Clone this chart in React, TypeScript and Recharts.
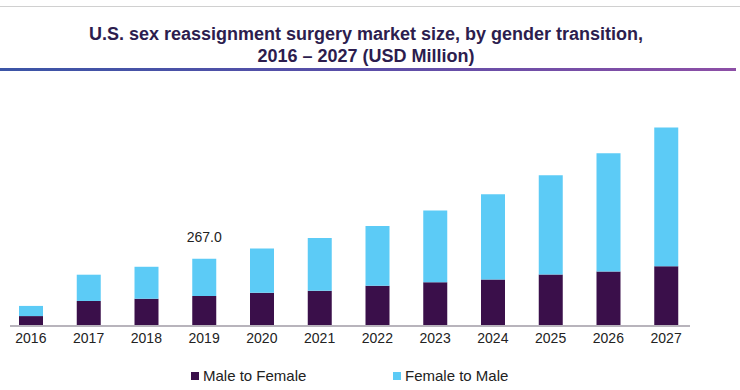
import { BarChart, Bar, XAxis, YAxis, Legend, LabelList } from "recharts";

const years = ["2016", "2017", "2018", "2019", "2020", "2021", "2022", "2023", "2024", "2025", "2026", "2027"];
const maleToFemale = [36, 97, 106, 117, 130, 138, 158, 173, 184, 204, 216, 237];
const femaleToMale = [41, 106, 129, 150, 179, 213, 242, 289, 344, 400, 477, 560];
const labelledTotals = ["", "", "", "267.0", "", "", "", "", "", "", "", ""];

const DARK = "#3a0f4a";
const LIGHT = "#5ccbf6";

const data = years.map((year, i) => ({
  year,
  mtf: maleToFemale[i],
  ftm: femaleToMale[i],
  label: labelledTotals[i],
}));

const font = "'Liberation Sans', Arial, sans-serif";

function TotalLabel(props: any) {
  const { x, y, width, value } = props;
  if (!value) return null;
  return (
    <text x={x + width / 2} y={y - 17} textAnchor="middle" fontSize={14} fill="#222" fontFamily={font}>
      {value}
    </text>
  );
}

function LegendContent() {
  const items = [
    { name: "Male to Female", color: DARK, left: 191 },
    { name: "Female to Male", color: LIGHT, left: 393 },
  ];
  return (
    <div style={{ position: "relative", height: 20, fontFamily: font, fontSize: 15, color: "#222" }}>
      {items.map(it => (
        <div key={it.name} style={{ position: "absolute", left: it.left, top: 0, display: "flex", alignItems: "center" }}>
          <span style={{ width: 8, height: 8, background: it.color, display: "inline-block", marginRight: 4 }} />
          <span>{it.name}</span>
        </div>
      ))}
    </div>
  );
}

export default function App() {
  return (
    <div style={{ position: "absolute", left: 0, top: 0, width: 740, height: 390, background: "#fff", overflow: "hidden" }}>
      {/* frame lines */}
      <div style={{ position: "absolute", left: 0, top: 6, width: 740, height: 1, background: "#d0d0d0" }} />
      <div style={{ position: "absolute", left: 0, top: 68, width: 736, height: 3, background: "linear-gradient(90deg, #3b55a6 0%, #5b4ea8 50%, #8d4fa6 100%)" }} />

      {/* title */}
      <div style={{ position: "absolute", left: 0, top: 23, width: 732, textAlign: "center", fontFamily: font, fontWeight: "bold", fontSize: 18, lineHeight: "22px", color: "#2c1d4e" }}>
        U.S. sex reassignment surgery market size, by gender transition,
        <br />
        2016 – 2027 (USD Million)
      </div>

      <div style={{ position: "absolute", left: 10, top: 325, width: 680, height: 2, background: "#b8b4bc" }} />

      <div style={{ position: "absolute", left: 0, top: 0 }}>
        <BarChart width={740} height={390} data={data} margin={{ top: 102, right: 45, left: 2, bottom: 12 }}>
          <XAxis
            dataKey="year"
            axisLine={false}
            tickLine={false}
            height={33}
            tick={{ fontSize: 14, fill: "#222", fontFamily: font }}
            interval={0}
          />
          <YAxis hide domain={[0, 900]} />
          <Legend content={<LegendContent />} verticalAlign="bottom" wrapperStyle={{ left: 0, width: 740, bottom: 3 }} />
          <Bar dataKey="mtf" name="Male to Female" stackId="a" fill={DARK} barSize={24} isAnimationActive={false} />
          <Bar dataKey="ftm" name="Female to Male" stackId="a" fill={LIGHT} barSize={24} isAnimationActive={false}>
            <LabelList dataKey="label" content={<TotalLabel />} />
          </Bar>
        </BarChart>
      </div>
    </div>
  );
}
